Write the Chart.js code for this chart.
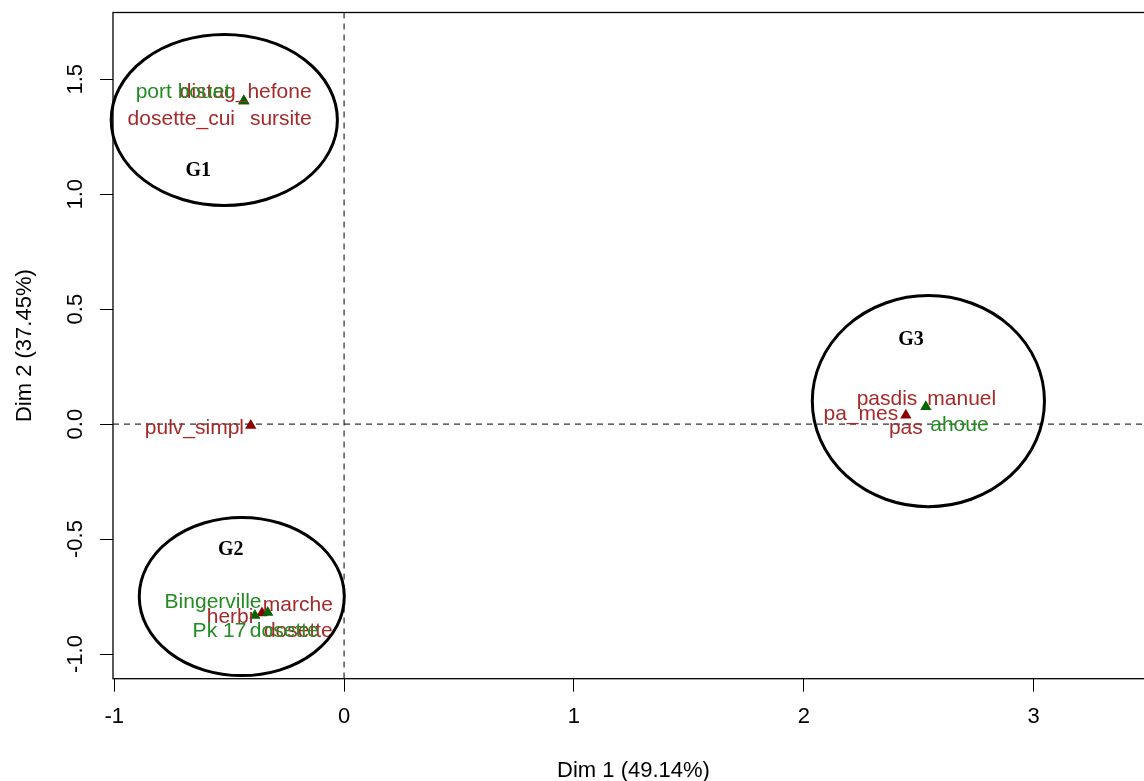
<!DOCTYPE html>
<html>
<head>
<meta charset="utf-8">
<script src="https://cdn.jsdelivr.net/npm/chart.js@4.4.1/dist/chart.umd.min.js"></script>
<style>
  html, body { margin: 0; padding: 0; background: #fff; overflow: hidden; }
  #wrap { width: 1144px; height: 781px; overflow: hidden; position: relative; }
  canvas { position: absolute; left: 0; top: 0; }
</style>
</head>
<body>
<div id="wrap"><canvas id="mcaChart" width="1165" height="781"></canvas></div>
<script>
// --- Donnees (coordonnees) ---
const xTicks = [-1, 0, 1, 2, 3];
const yTicks = [-1, -0.5, 0, 0.5, 1, 1.5];

// modalites (rouge)
const modPtX = [-0.436, -0.406, -0.357, 2.444];
const modPtY = [1.405, -0.006, -0.822, 0.038];
const modNames = ['distag_hefone', 'dosette_cui', 'sursite', 'pulv_simpl', 'marche', 'herbi', 'dosette', 'pasdis', 'manuel', 'pa_mes', 'pas'];
const modLabX = [-0.428, -0.708, -0.275, -0.651, -0.201, -0.496, -0.199, 2.362, 2.687, 2.248, 2.444];
const modLabY = [1.443, 1.328, 1.328, -0.017, -0.786, -0.842, -0.899, 0.110, 0.108, 0.041, -0.020];

// sites (vert)
const sitePtX = [-0.436, -0.388, -0.332, 2.531];
const sitePtY = [1.405, -0.832, -0.819, 0.075];
const siteNames = ['port bouet', 'Bingerville', 'Pk 17', 'ahoue', 'dosette'];
const siteLabX = [-0.701, -0.570, -0.542, 2.677, -0.260];
const siteLabY = [1.443, -0.775, -0.899, -0.006, -0.899];

// groupes (ellipses)
const groupNames = ['G1', 'G2', 'G3'];
const groupCx = [-0.521, -0.445, 2.542];
const groupCy = [1.323, -0.750, 0.100];
const groupRx = [0.492, 0.446, 0.505];
const groupRy = [0.372, 0.344, 0.459];
const groupLabX = [-0.634, -0.493, 2.466];
const groupLabY = [1.103, -0.548, 0.366];

const RED_TXT = '#a52a2a', GREEN_TXT = '#228b22';
const RED_PT = '#8b0000', GREEN_PT = '#006400';
const SANS = '"Liberation Sans", Arial, sans-serif';

const toPts = (xs, ys) => xs.map((x, i) => ({ x: x, y: ys[i] }));

// --- Plugin : axes zero, textes, ellipses, cadre ---
const decor = {
    id: 'decor',
    beforeDatasetsDraw(chart) {
        const { ctx, chartArea: a, scales: { x, y } } = chart;
        ctx.save();
        ctx.strokeStyle = '#000';
        ctx.lineWidth = 1;
        ctx.setLineDash([6, 5]);
        const px = x.getPixelForValue(0), py = y.getPixelForValue(0);
        ctx.beginPath();
        ctx.moveTo(a.left, py); ctx.lineTo(a.right, py);
        ctx.moveTo(px, a.top); ctx.lineTo(px, a.bottom);
        ctx.stroke();
        ctx.restore();
    },
    afterDatasetsDraw(chart) {
        const { ctx, chartArea: a, scales: { x, y } } = chart;
        ctx.save();
        ctx.font = '21px ' + SANS;
        ctx.textAlign = 'center';
        ctx.textBaseline = 'middle';
        ctx.fillStyle = RED_TXT;
        modNames.forEach((t, i) => ctx.fillText(t, x.getPixelForValue(modLabX[i]), y.getPixelForValue(modLabY[i])));
        ctx.fillStyle = GREEN_TXT;
        siteNames.forEach((t, i) => ctx.fillText(t, x.getPixelForValue(siteLabX[i]), y.getPixelForValue(siteLabY[i])));

        // ellipses
        ctx.strokeStyle = '#000';
        ctx.lineWidth = 3;
        groupNames.forEach((g, i) => {
            const cx = x.getPixelForValue(groupCx[i]);
            const cy = y.getPixelForValue(groupCy[i]);
            const rx = Math.abs(x.getPixelForValue(groupCx[i] + groupRx[i]) - cx);
            const ry = Math.abs(y.getPixelForValue(groupCy[i] + groupRy[i]) - cy);
            ctx.beginPath();
            ctx.ellipse(cx, cy, rx, ry, 0, 0, Math.PI * 2);
            ctx.stroke();
        });
        ctx.font = 'bold 20px "Liberation Serif", "Times New Roman", serif';
        ctx.fillStyle = '#000';
        groupNames.forEach((g, i) => ctx.fillText(g, x.getPixelForValue(groupLabX[i]), y.getPixelForValue(groupLabY[i])));

        // cadre
        ctx.lineWidth = 1.3;
        ctx.strokeRect(a.left, a.top, a.right - a.left, a.bottom - a.top);
        ctx.restore();
    }
};

new Chart(document.getElementById('mcaChart'), {
    type: 'scatter',
    data: {
        datasets: [
            // le premier jeu est dessine au-dessus
            { data: toPts(sitePtX, sitePtY), backgroundColor: GREEN_PT, pointStyle: 'triangle', pointRadius: 6.5, borderWidth: 0 },
            { data: toPts(modPtX, modPtY), backgroundColor: RED_PT, pointStyle: 'triangle', pointRadius: 6.5, borderWidth: 0 }
        ]
    },
    options: {
        responsive: false,
        animation: false,
        devicePixelRatio: 1,
        layout: { padding: { top: 12.5, right: 11, left: 0, bottom: 0 } },
        plugins: { legend: { display: false }, tooltip: { enabled: false } },
        scales: {
            x: {
                type: 'linear',
                min: -1.0052,
                max: 3.5235,
                afterFit: s => { s.height = 102.3; s.paddingLeft = 0; s.paddingRight = 0; },
                afterBuildTicks: s => { s.ticks = xTicks.map(v => ({ value: v })); },
                grid: { drawOnChartArea: false, drawTicks: true, tickLength: 13, tickColor: '#000', lineWidth: 1 },
                border: { display: false },
                ticks: { color: '#000', font: { family: SANS, size: 22 }, padding: 12, maxRotation: 0, callback: v => String(v) },
                title: { display: true, text: 'Dim 1 (49.14%)', color: '#000', font: { family: SANS, size: 22, lineHeight: 0.9 }, padding: { top: 0, bottom: 0 } }
            },
            y: {
                type: 'linear',
                min: -1.1074,
                max: 1.7903,
                afterFit: s => { s.width = 113; s.paddingTop = 0; s.paddingBottom = 0; },
                afterBuildTicks: s => { s.ticks = yTicks.map(v => ({ value: v })); },
                grid: { drawOnChartArea: false, drawTicks: true, tickLength: 13, tickColor: '#000', lineWidth: 1 },
                border: { display: false },
                ticks: { color: '#000', font: { family: SANS, size: 22 }, padding: 5, minRotation: 90, maxRotation: 90, crossAlign: 'center', callback: v => v.toFixed(1) },
                title: { display: true, text: 'Dim 2 (37.45%)', color: '#000', font: { family: SANS, size: 22, lineHeight: 0.9 }, padding: { top: 15, bottom: 0 } }
            }
        }
    },
    plugins: [decor]
});
</script>
</body>
</html>
